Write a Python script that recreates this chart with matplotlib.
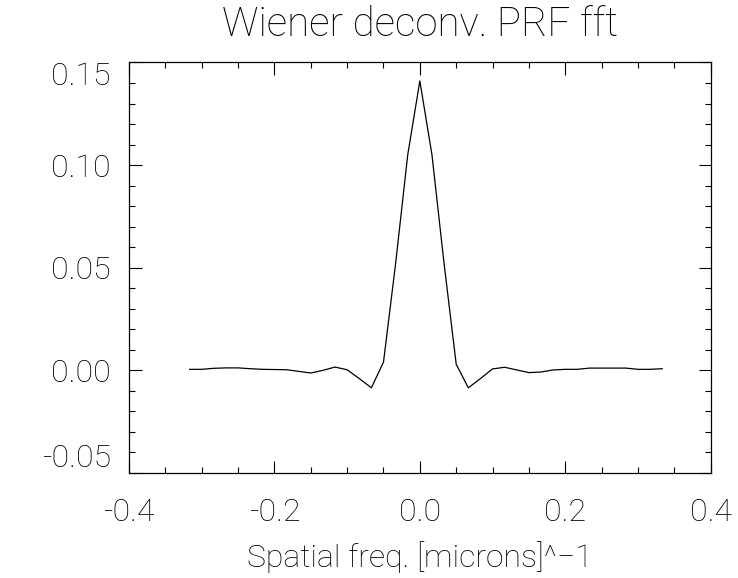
import numpy as np
import matplotlib
matplotlib.use("Agg")
import matplotlib.pyplot as plt
from matplotlib.ticker import MultipleLocator, FormatStrFormatter

# spatial frequency samples, k/60 for k = -19..20
k = np.arange(-19, 21)
freq = k / 60.0

# PRF fft values
prf = [0.0005, 0.0005, 0.0010, 0.0012, 0.0012, 0.0008, 0.0005, 0.0004,
       0.0003, -0.0005, -0.0013, 0.0000, 0.0016, 0.0003, -0.0040, -0.0085,
       0.0040, 0.0520, 0.1050, 0.1410, 0.1050, 0.0520, 0.0030, -0.0085,
       -0.0040, 0.0007, 0.0015, 0.0002, -0.0011, -0.0008, 0.0002, 0.0005,
       0.0005, 0.0011, 0.0011, 0.0011, 0.0011, 0.0005, 0.0005, 0.0008]

title = "Wiener deconv. PRF fft"
xlabel = "Spatial freq. [microns]^\u22121"
xticks = [-0.4, -0.2, 0.0, 0.2, 0.4]
yticks = [-0.05, 0.00, 0.05, 0.10, 0.15]

plt.rcParams['font.family'] = ['Roboto', 'DejaVu Sans']
plt.rcParams['font.weight'] = 'light'
plt.rcParams['axes.titleweight'] = 'light'
plt.rcParams['axes.labelweight'] = 'light'

fig = plt.figure(figsize=(7.38, 5.78), dpi=100)
ax = fig.add_axes([0.1748, 0.1817, 0.963 - 0.1748, 0.8919 - 0.1817])

ax.plot(freq, prf, color='black', linewidth=0.9)

ax.set_xlim(-0.4, 0.4)
ax.set_ylim(-0.05, 0.15)
ax.set_xticks(xticks)
ax.set_yticks(yticks)
ax.xaxis.set_minor_locator(MultipleLocator(0.05))
ax.yaxis.set_minor_locator(MultipleLocator(0.01))
ax.xaxis.set_major_formatter(FormatStrFormatter('%.1f'))
ax.yaxis.set_major_formatter(FormatStrFormatter('%.2f'))

ax.tick_params(which='both', direction='in', top=True, right=True,
               width=0.8, labelsize=23)
ax.tick_params(which='major', length=9)
ax.tick_params(which='minor', length=4.5)
ax.tick_params(axis='x', which='major', pad=18)
ax.tick_params(axis='y', which='major', pad=13)
for s in ax.spines.values():
    s.set_linewidth(0.9)

# IDL keeps the end labels inside the axis box
yt = ax.yaxis.get_major_ticks()
yt[0].label1.set_va('bottom')
yt[-1].label1.set_va('top')

ax.set_title(title, fontsize=29, pad=19)
ax.set_xlabel(xlabel, fontsize=23, labelpad=10)

fig.savefig("out.png", dpi=100)
